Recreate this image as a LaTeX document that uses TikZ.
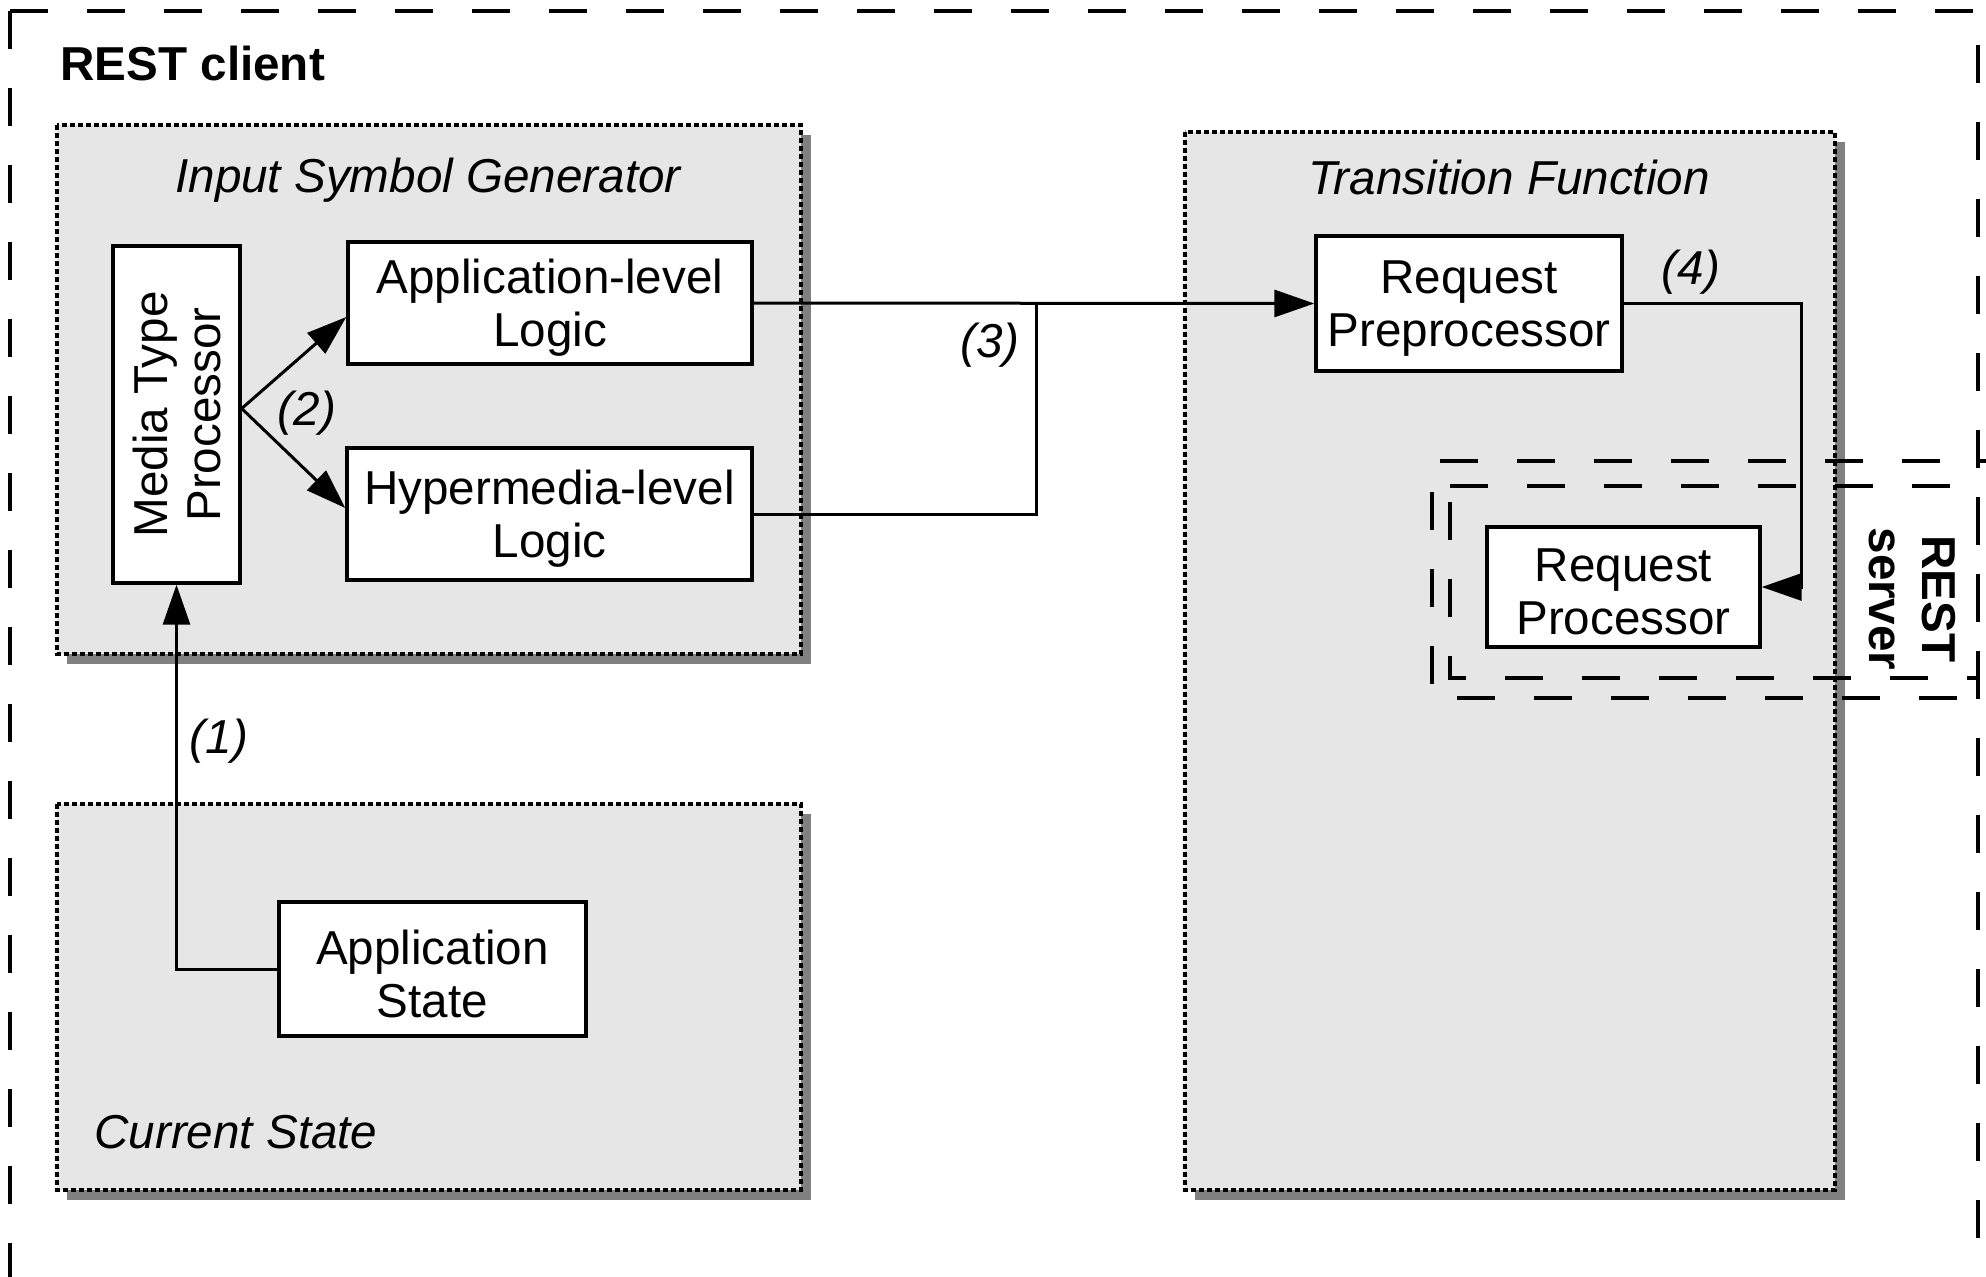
\documentclass[tikz,border=0pt]{standalone}
\usepackage{fontspec}
\setmainfont{Liberation Sans}
\usetikzlibrary{arrows.meta}
\definecolor{panelfill}{HTML}{E6E6E6}
\definecolor{panelshadow}{HTML}{808080}

\begin{document}
\begin{tikzpicture}[x=0.5pt,y=-0.5pt,
  every node/.style={font=\fontsize{23.8pt}{26.5pt}\selectfont, inner sep=0pt},
  longdash/.style={line width=1.6pt, dash pattern=on 19pt off 19.5pt},
  panel/.style={draw, fill=panelfill, line width=1.9pt, dash pattern=on 2.4pt off 1.6pt},
  panelshade/.style={fill=panelshadow},
  unit/.style={draw, fill=white, line width=1.7pt},
  unittext/.style={align=center, yshift=-2.5pt},
  flow/.style={line width=1.5pt, -{Triangle[length=20pt,width=13.5pt]}},
  plain/.style={line width=1.5pt},
  title/.style={font=\fontsize{23.8pt}{26.5pt}\selectfont\itshape},
  steplabel/.style={font=\fontsize{23.8pt}{26.5pt}\selectfont\itshape, anchor=base},
  heading/.style={font=\fontsize{23.8pt}{26.5pt}\selectfont\bfseries}
]
\useasboundingbox (0,0) rectangle (1986,1276);
\clip (0,0) rectangle (1986,1276);

% client boundary, both halves dashed from the top-left corner
\draw[longdash] (10,11) -- (1978,11) -- (1978,1330);
\draw[longdash] (10,11) -- (10,1330) -- (1978,1330);
\node[heading, anchor=base west] (client) at (60,80) {REST client};

% panels with drop shadows
\fill[panelshade] (67,135) rectangle (811,664);
\path[panel] (57,125) rectangle (801,654);
\fill[panelshade] (67,814) rectangle (811,1200);
\path[panel] (57,804) rectangle (801,1190);
\fill[panelshade] (1195,142) rectangle (1845,1200);
\path[panel] (1185,132) rectangle (1835,1190);

\node[title, anchor=base] (isgtitle) at (428,192) {Input Symbol Generator};
\node[title, anchor=base] (tftitle) at (1509,194) {Transition Function};
\node[title, anchor=base west] (cstitle) at (94,1148) {Current State};

% processing units (frame, then its caption)
\node[unit, minimum width=63.5pt, minimum height=168.5pt] (mtp) at (176.5,414.5) {};
\node[rotate=90, align=center] (mtptext) at (mtp.center) {Media Type\\Processor};
\node[unit, minimum width=202pt, minimum height=61pt] (all) at (550,303) {};
\node[unittext] (alltext) at (all.center) {Application-level\\Logic};
\node[unit, minimum width=202.5pt, minimum height=66pt] (hll) at (549.5,514) {};
\node[unittext] (hlltext) at (hll.center) {Hypermedia-level\\Logic};
\node[unit, minimum width=153.5pt, minimum height=67pt] (as) at (432.5,969) {};
\node[unittext] (astext) at (as.center) {Application\\State};
\node[unit, minimum width=153pt, minimum height=67.5pt] (rpp) at (1469,303.5) {};
\node[unittext] (rpptext) at (rpp.center) {Request\\Preprocessor};
\node[unit, minimum width=136.5pt, minimum height=60pt] (rp) at (1623.5,587) {};
\node[unittext] (rptext) at (rp.center) {Request\\Processor};

% flows
\draw[flow] (as.west) -| (mtp.south);
\node[steplabel] (l1) at (219,753) {(1)};

\draw[flow] ([yshift=3pt]mtp.east) -- ([yshift=-7pt]all.west);
\draw[flow] ([yshift=3pt]mtp.east) -- ([yshift=3pt]hll.west);
\node[steplabel] (l2) at (307,425) {(2)};

\coordinate (j3) at (1036,303);
\draw[flow] (all.east) -- (rpp.west);
\draw[plain] (hll.east) -| (j3);
\node[steplabel] (l3) at (990,357) {(3)};

\coordinate (c4) at (1801,303.5);
\draw[flow] (rpp.east) -- (c4) |- (rp.east);
\node[steplabel] (l4) at (1691,284) {(4)};

% server boundary: two offset dashed frames
\draw[longdash] (2017,461) -- (1432,461) -- (1432,698) -- (2017,698);
\draw[longdash] (1450,486) -- (1978,486) -- (1978,678) -- (1450,678) -- cycle;
\node[heading, rotate=-90, align=center] (server) at (1912,599) {REST\\server};
\end{tikzpicture}
\end{document}
